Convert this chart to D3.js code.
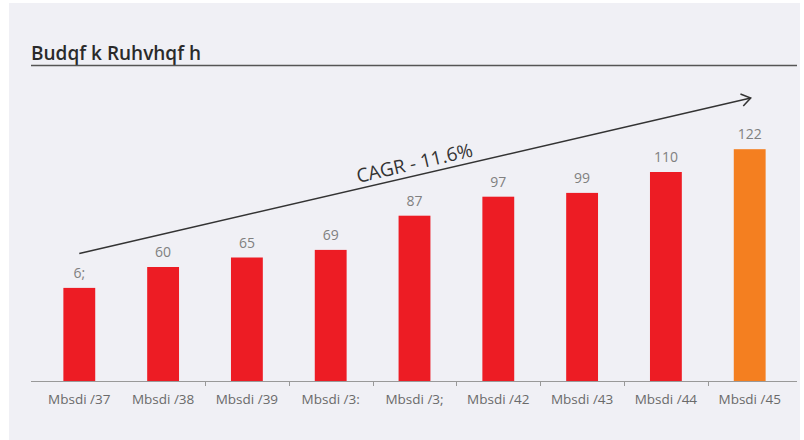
<!DOCTYPE html>
<html>
<head>
<meta charset="utf-8">
<script src="https://cdn.jsdelivr.net/npm/d3@7"></script>
<style>
  html, body { margin: 0; padding: 0; background: #fff; }
  svg { display: block; }
</style>
</head>
<body>
<script>
'use strict';

// chart data
const categories = ["Mbsdi /37", "Mbsdi /38", "Mbsdi /39", "Mbsdi /3:", "Mbsdi /3;",
                    "Mbsdi /42", "Mbsdi /43", "Mbsdi /44", "Mbsdi /45"];
const values = [49, 60, 65, 69, 87, 97, 99, 110, 122];
const valueLabels = ["6;", "60", "65", "69", "87", "97", "99", "110", "122"];
const title = "Budqf k Ruhvhqf h";
const cagrText = "CAGR - 11.6%";

const width = 804, height = 440;

const svg = d3.select('body')
  .append('svg')
  .attr('width', width)
  .attr('height', height);

// panel background
svg.append('rect')
  .attr('x', 9).attr('y', 3)
  .attr('width', 791).attr('height', 437)
  .attr('fill', '#f0f0f5');

// title + rule
svg.append('text')
  .attr('x', 31).attr('y', 60)
  .style('font-family', '"Open Sans", sans-serif')
  .style('font-size', '19px')
  .style('font-weight', 600)
  .attr('fill', '#2a2a2a')
  .text(title);

svg.append('line')
  .attr('x1', 31).attr('x2', 797)
  .attr('y1', 65.5).attr('y2', 65.5)
  .attr('stroke', '#555')
  .attr('stroke-width', 1.3);

// scales
let xScale = d3.scaleBand()
  .domain(categories)
  .range([37.4, 791.6])
  .paddingInner(0.62)
  .paddingOuter(0.31);

let yScale = d3.scaleLinear()
  .domain([0, 122])
  .range([381, 381 - 122 * 1.9]);

// bars
svg.selectAll('.bar')
  .data(values)
  .enter()
  .append('rect')
    .attr('class', 'bar')
    .attr('x', (d, i) => xScale(categories[i]))
    .attr('y', d => yScale(d))
    .attr('width', xScale.bandwidth())
    .attr('height', d => yScale(0) - yScale(d))
    .attr('fill', (d, i) => i === values.length - 1 ? '#f47f20' : '#ed1c24');

// value labels
svg.selectAll('.vlabel')
  .data(values)
  .enter()
  .append('text')
    .attr('class', 'vlabel')
    .attr('x', (d, i) => xScale(categories[i]) + xScale.bandwidth() / 2)
    .attr('y', d => yScale(d) - 10)
    .attr('text-anchor', 'middle')
    .style('font-family', '"Open Sans", sans-serif')
    .style('font-size', '14px')
    .attr('fill', '#808080')
    .text((d, i) => valueLabels[i]);

// x axis: line, separator ticks, labels
let step = xScale.step();
let left = 37.4;
svg.append('line')
  .attr('x1', 31).attr('x2', 797)
  .attr('y1', 381.5).attr('y2', 381.5)
  .attr('stroke', '#999')
  .attr('stroke-width', 1.2);

svg.selectAll('.sep')
  .data(d3.range(2, categories.length))
  .enter()
  .append('line')
    .attr('x1', d => Math.round(left + d * step) + 0.5)
    .attr('x2', d => Math.round(left + d * step) + 0.5)
    .attr('y1', 381).attr('y2', 386)
    .attr('stroke', '#999');

svg.selectAll('.xlabel')
  .data(categories)
  .enter()
  .append('text')
    .attr('x', d => xScale(d) + xScale.bandwidth() / 2)
    .attr('y', 404)
    .attr('text-anchor', 'middle')
    .style('font-family', '"Open Sans", sans-serif')
    .style('font-size', '13.5px')
    .attr('fill', '#6a6a6a')
    .text(d => d);

// CAGR arrow
let x0 = xScale(categories[0]) + xScale.bandwidth() / 2;
let x1 = xScale(categories[categories.length - 1]) + xScale.bandwidth() / 2;
let p0 = [x0, 253.5], p1 = [x1 + 1, 98];
let ang = Math.atan2(p1[1] - p0[1], p1[0] - p0[0]);

svg.append('line')
  .attr('x1', p0[0]).attr('y1', p0[1])
  .attr('x2', p1[0]).attr('y2', p1[1])
  .attr('stroke', '#333')
  .attr('stroke-width', 1.5);

let ah = 11, spread = 0.6;
svg.append('path')
  .attr('d', d3.line()([
    [p1[0] - ah * Math.cos(ang - spread), p1[1] - ah * Math.sin(ang - spread)],
    p1,
    [p1[0] - ah * Math.cos(ang + spread), p1[1] - ah * Math.sin(ang + spread)]
  ]))
  .attr('fill', 'none')
  .attr('stroke', '#333')
  .attr('stroke-width', 1.5);

let tx = 416;
let ty = p0[1] + (tx - p0[0]) * Math.tan(ang) - 6;
svg.append('text')
  .attr('transform', `translate(${tx},${ty}) rotate(${ang * 180 / Math.PI})`)
  .attr('text-anchor', 'middle')
  .style('font-family', '"Open Sans", sans-serif')
  .style('font-size', '19px')
  .attr('fill', '#333')
  .text(cagrText);
</script>
</body>
</html>
